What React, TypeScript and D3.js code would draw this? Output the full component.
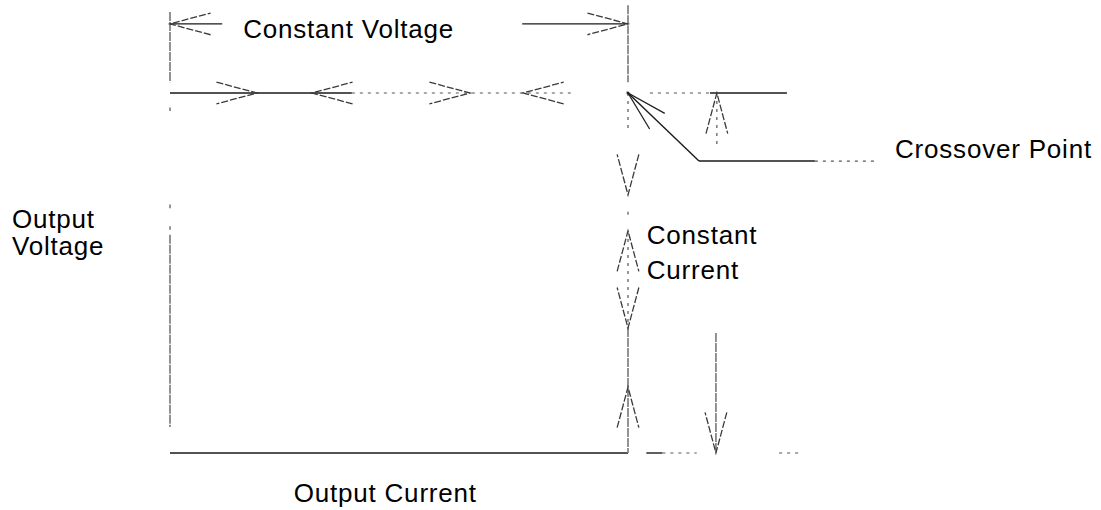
import React from 'react';
import * as d3 from 'd3';

// Normalised units: current 1 = crossover current, voltage 1 = crossover voltage
const crossover = [1, 1];

// segments: [x1, y1, x2, y2, style]
const segments: [number, number, number, number, string][] = [
  // left voltage axis (faint, scanned)
  [0, 1.225, 0, 1.03, 'gray'],
  [0, 0.96, 0, 0.95, 'gray'],
  [0, 0.69, 0, 0.68, 'gray'],
  [0, 0.63, 0, 0.62, 'gray'],
  [0, 0.606, 0, 0.072, 'gray'],
  // output current axis
  [0, 0, 1, 0, 'solid'],
  [1.04, 0, 1.075, 0, 'solid'],
  [1.075, 0, 1.15, 0, 'dots'],
  [1.33, 0, 1.38, 0, 'dots'],
  // crossover vertical
  [1, 1.244, 1, 1.03, 'gray'],
  [1, 1, 1, 0.9, 'dots'],
  [1, 0.67, 1, 0.66, 'dots'],
  [1, 0.617, 1, 0.347, 'dots'],
  [1, 0.347, 1, 0, 'gray'],
  // constant voltage dimension shafts
  [0, 1.192, 0.114, 1.192, 'solid'],
  [0.769, 1.192, 1, 1.192, 'solid'],
  // CV line
  [0, 1, 0.397, 1, 'solid'],
  [0.397, 1, 0.884, 1, 'dots'],
  // right of crossover
  [1.048, 1, 1.179, 1, 'dots'],
  [1.179, 1, 1.347, 1, 'solid'],
  [1.194, 1, 1.194, 0.847, 'dots'],
  // crossover leader
  [1, 1, 1.155, 0.811, 'solid'],
  [1.155, 0.811, 1.408, 0.811, 'solid'],
  [1.408, 0.811, 1.539, 0.811, 'dots'],
  // current drop stem
  [1.192, 0.333, 1.192, 0, 'gray'],
];

// arrowheads: tip x, tip y, direction (deg, 0 = right, 90 = up), solid?
const arrowTipsX = [0, 1, 0.19, 0.31, 0.655, 0.771, 1.194, 1, 1, 1, 1, 1.192, 1];
const arrowTipsY = [1.192, 1.192, 1, 1, 1, 1, 1, 0.717, 0.617, 0.347, 0.183, 0, 1];
const arrowDirs = [180, 0, 0, 180, 0, 180, 90, -90, 90, -90, 90, -90, 136];
const arrowSolid = [0, 0, 0, 0, 0, 0, 0, 0, 0, 0, 0, 0, 1];

const labels = [
  { text: 'Constant Voltage', x: 0.39, y: 1.153, anchor: 'middle' },
  { text: 'Crossover Point', x: 1.583, y: 0.819, anchor: 'start' },
  { text: 'Constant', x: 1.041, y: 0.581, anchor: 'start' },
  { text: 'Current', x: 1.041, y: 0.483, anchor: 'start' },
  { text: 'Output', x: -0.345, y: 0.625, anchor: 'start' },
  { text: 'Voltage', x: -0.345, y: 0.55, anchor: 'start' },
  { text: 'Output Current', x: 0.47, y: -0.136, anchor: 'middle' },
];

const W = 1101;
const H = 510;

export default function App() {
  const x = d3.scaleLinear().domain([0, 1]).range([170, 628]);
  const y = d3.scaleLinear().domain([0, 1]).range([453, 93]);
  const line = d3.line();

  const styles: Record<string, any> = {
    solid: { stroke: '#1a1a1a', strokeWidth: 1.4 },
    gray: { stroke: '#808080', strokeWidth: 1.7, strokeDasharray: '9 1' },
    dots: { stroke: '#555', strokeWidth: 1.2, strokeDasharray: '3 5' },
  };

  const headLen = 42;
  const half = (15 * Math.PI) / 180;

  return (
    <svg
      width={W}
      height={H}
      style={{ position: 'absolute', left: 0, top: 0, background: '#fff' }}
      fontFamily="'Liberation Sans', Arial, sans-serif"
    >
      {segments.map(([x1, y1, x2, y2, s], i) => (
        <path
          key={'s' + i}
          d={line([[x(x1), y(y1)], [x(x2), y(y2)]]) || ''}
          fill="none"
          {...styles[s]}
        />
      ))}
      {arrowTipsX.map((tx, i) => {
        const px = x(tx);
        const py = y(arrowTipsY[i]);
        const a = (arrowDirs[i] * Math.PI) / 180;
        // back direction in screen coords (y down)
        const bx = -Math.cos(a);
        const by = Math.sin(a);
        const rot = (t: number) => [
          px + headLen * (bx * Math.cos(t) - by * Math.sin(t)),
          py + headLen * (bx * Math.sin(t) + by * Math.cos(t)),
        ] as [number, number];
        const w1 = rot(half);
        const w2 = rot(-half);
        return (
          <path
            key={'a' + i}
            d={line([w1, [px, py], w2]) || ''}
            fill="none"
            stroke={arrowSolid[i] ? '#222' : '#3a3a3a'}
            strokeWidth={1.3}
            strokeDasharray={arrowSolid[i] ? undefined : '7 2'}
          />
        );
      })}
      {labels.map((l, i) => (
        <text
          key={'t' + i}
          x={x(l.x)}
          y={y(l.y)}
          textAnchor={l.anchor}
          fontSize={26}
          letterSpacing={0.8}
          fill="#000"
        >
          {l.text}
        </text>
      ))}
      {/* crossover point marker */}
      <circle cx={x(crossover[0])} cy={y(crossover[1])} r={1.5} fill="#222" />
    </svg>
  );
}
